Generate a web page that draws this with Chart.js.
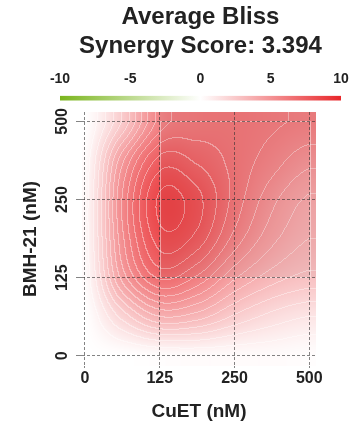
<!DOCTYPE html>
<html>
<head>
<meta charset="utf-8">
<script src="https://cdn.jsdelivr.net/npm/chart.js@4"></script>
<style>
  html, body { margin: 0; padding: 0; background: #fff; }
  #wrap { position: relative; width: 359px; height: 434px; }
  canvas { position: absolute; left: 0; top: 0; }
</style>
</head>
<body>
<div id="wrap">
  <canvas id="mapCanvas" width="359" height="434"></canvas>
  <canvas id="barCanvas" width="359" height="101"></canvas>
</div>
<script>
// dose tick labels (nM)
const cuetLabels = ['0', '125', '250', '500'];
const bmhLabels = ['0', '125', '250', '500'];
const averageScore = '3.394';
const colorbarTicks = [-10, -5, 0, 5, 10];
const colorbarRange = [-10, 10];

// surface samples at half steps of the tick index (0 = 0 nM ... 3 = 500 nM)
const surfaceSteps = [0, 0.5, 1, 1.5, 2, 2.5, 3];
// rows go from BMH-21 = 0 (bottom) to BMH-21 = 500 (top), columns CuET 0 -> 500
const blissRows = [
    [0.0, 0.0, 0.1, 0.2, 0.2, 0.2, 0.1],
    [0.0, 2.0, 3.6, 3.3, 2.3, 1.6, 1.2],
    [0.2, 4.4, 6.7, 5.9, 4.3, 3.3, 2.8],
    [0.3, 5.2, 8.1, 7.6, 5.8, 4.4, 3.6],
    [0.3, 5.4, 8.5, 8.0, 6.4, 5.0, 4.1],
    [0.2, 4.6, 7.4, 7.1, 6.4, 5.7, 5.0],
    [0.0, 2.4, 5.6, 6.2, 6.3, 6.1, 5.9]
];
// most synergistic area (tick index range)
const synergyBoxX = [1, 3];
const synergyBoxY = [1, 3];

const RED = [232, 38, 42];
const GREEN = [122, 181, 29];
const FONT = "'Liberation Sans', Arial, sans-serif";
const INK = '#222';

function blissColor(v) {
    const t = Math.max(-1, Math.min(1, v / 10));
    const c = t >= 0 ? RED : GREEN;
    const a = Math.abs(t);
    return [255 + (c[0] - 255) * a, 255 + (c[1] - 255) * a, 255 + (c[2] - 255) * a];
}

function sample(r, c) {
    const n = surfaceSteps.length - 1;
    r = Math.max(0, Math.min(n, r));
    c = Math.max(0, Math.min(n, c));
    return blissRows[r][c];
}

function cubic(p0, p1, p2, p3, t) {
    return p1 + 0.5 * t * (p2 - p0 + t * (2 * p0 - 5 * p1 + 4 * p2 - p3 + t * (3 * (p1 - p2) + p3 - p0)));
}

function surfaceAt(xv, yv) {
    const step = surfaceSteps[1] - surfaceSteps[0];
    const n = surfaceSteps.length - 1;
    const u = Math.max(0, Math.min(n, (xv - surfaceSteps[0]) / step));
    const v = Math.max(0, Math.min(n, (yv - surfaceSteps[0]) / step));
    const i = Math.min(n - 1, Math.floor(u)), j = Math.min(n - 1, Math.floor(v));
    const tx = u - i, ty = v - j;
    const rows = [];
    for (let k = -1; k <= 2; k++) {
        rows.push(cubic(sample(j + k, i - 1), sample(j + k, i), sample(j + k, i + 1), sample(j + k, i + 2), tx));
    }
    return cubic(rows[0], rows[1], rows[2], rows[3], ty);
}

const surfacePlugin = {
    id: 'surface',
    beforeDraw(chart) {
        const ctx = chart.ctx;
        const area = chart.chartArea;
        const xs = chart.scales.x, ys = chart.scales.y;
        const left = Math.round(area.left), top = Math.round(area.top);
        const w = Math.round(area.right) - left, h = Math.round(area.bottom) - top;
        const vals = new Float32Array(w * h);
        for (let py = 0; py < h; py++) {
            const yv = ys.getValueForPixel(top + py + 0.5);
            for (let px = 0; px < w; px++) {
                vals[py * w + px] = surfaceAt(xs.getValueForPixel(left + px + 0.5), yv);
            }
        }
        const step = 0.6;
        const img = ctx.createImageData(w, h);
        for (let py = 0; py < h; py++) {
            for (let px = 0; px < w; px++) {
                const k = py * w + px;
                const v = vals[k];
                let col = blissColor(v);
                const lv = Math.floor(v / step);
                const lr = px < w - 1 ? Math.floor(vals[k + 1] / step) : lv;
                const lb = py < h - 1 ? Math.floor(vals[k + w] / step) : lv;
                if ((lv !== lr || lv !== lb) && Math.max(v, 0) > step * 0.8) {
                    col = col.map(c => c + (255 - c) * 0.38);
                }
                img.data[k * 4] = col[0];
                img.data[k * 4 + 1] = col[1];
                img.data[k * 4 + 2] = col[2];
                img.data[k * 4 + 3] = 255;
            }
        }
        ctx.putImageData(img, left, top);

        // most synergistic area
        const bx0 = xs.getPixelForValue(synergyBoxX[0]), bx1 = xs.getPixelForValue(synergyBoxX[1]);
        const by0 = ys.getPixelForValue(synergyBoxY[0]), by1 = ys.getPixelForValue(synergyBoxY[1]);
        ctx.save();
        ctx.fillStyle = 'rgba(80,60,60,0.05)';
        ctx.fillRect(bx0, area.top, area.right - bx0, by0 - area.top);
        ctx.strokeStyle = 'rgba(255,255,255,0.45)';
        ctx.lineWidth = 1;
        ctx.strokeRect(Math.round(bx0) + 0.5, Math.round(by1) + 0.5, Math.round(bx1 - bx0), Math.round(by0 - by1));
        ctx.restore();
    }
};

const gridPoints = [];
blissRows.forEach((row, r) => row.forEach((v, c) => gridPoints.push({ x: surfaceSteps[c], y: surfaceSteps[r], v })));

new Chart(document.getElementById('mapCanvas'), {
    type: 'scatter',
    data: { datasets: [{ data: gridPoints, pointRadius: 0, pointHoverRadius: 0 }] },
    options: {
        responsive: false,
        animation: false,
        layout: { padding: { left: 15, right: 43, top: 112, bottom: 6 } },
        plugins: { legend: { display: false }, tooltip: { enabled: false } },
        scales: {
            x: {
                type: 'linear', min: -0.04, max: 3.09,
                afterBuildTicks: s => { s.ticks = cuetLabels.map((l, i) => ({ value: i })); },
                ticks: { callback: v => cuetLabels[v], font: { family: FONT, size: 16, weight: 'bold' }, color: INK, padding: 1, maxRotation: 0, autoSkip: false },
                grid: { color: 'rgba(50,50,50,0.6)', tickLength: 2 },
                border: { display: false, dash: [3, 2] },
                title: { display: true, text: 'CuET (nM)', font: { family: FONT, size: 19, weight: 'bold' }, color: INK, padding: { top: 11, bottom: 5 } }
            },
            y: {
                type: 'linear', min: -0.13, max: 3.12,
                afterBuildTicks: s => { s.ticks = bmhLabels.map((l, i) => ({ value: i })); },
                ticks: { callback: v => bmhLabels[v], font: { family: FONT, size: 16, weight: 'bold' }, color: INK, padding: 0, minRotation: 90, maxRotation: 90, crossAlign: 'center', autoSkip: false },
                grid: { color: 'rgba(50,50,50,0.6)', tickLength: 6 },
                border: { display: false, dash: [3, 2] },
                title: { display: true, text: 'BMH-21 (nM)', font: { family: FONT, size: 19, weight: 'bold' }, color: INK, padding: { top: 4, bottom: 15 } }
            }
        }
    },
    plugins: [surfacePlugin]
});

new Chart(document.getElementById('barCanvas'), {
    type: 'bar',
    data: {
        labels: ['Bliss'],
        datasets: [{
            data: [colorbarRange],
            barThickness: 4,
            borderSkipped: false,
            backgroundColor: c => {
                const area = c.chart.chartArea;
                const xs = c.chart.scales.x;
                if (!area || !xs) return 'rgba(0,0,0,0)';
                const x0 = xs.getPixelForValue(colorbarRange[0]), x1 = xs.getPixelForValue(colorbarRange[1]);
                if (!isFinite(x0) || !isFinite(x1)) return 'rgba(0,0,0,0)';
                const g = c.chart.ctx.createLinearGradient(x0, 0, x1, 0);
                g.addColorStop(0, 'rgb(' + GREEN.join(',') + ')');
                g.addColorStop(0.5, '#ffffff');
                g.addColorStop(1, 'rgb(' + RED.join(',') + ')');
                return g;
            }
        }]
    },
    options: {
        indexAxis: 'y',
        responsive: false,
        animation: false,
        layout: { padding: { left: 60, right: 18, top: 3, bottom: 0 } },
        plugins: {
            legend: { display: false },
            tooltip: { enabled: false },
            title: {
                display: true,
                text: ['Average Bliss', 'Synergy Score: ' + averageScore],
                font: { family: FONT, size: 24, weight: 'bold', lineHeight: 1.2 },
                color: INK,
                fullSize: false,
                padding: { top: 0, bottom: 2 }
            }
        },
        scales: {
            x: {
                type: 'linear', position: 'top', min: colorbarRange[0], max: colorbarRange[1],
                afterBuildTicks: s => { s.ticks = colorbarTicks.map(v => ({ value: v })); },
                ticks: { font: { family: FONT, size: 14, weight: 'bold' }, color: INK, padding: 8 },
                grid: { display: false, drawTicks: false },
                border: { display: false }
            },
            y: { display: false }
        }
    }
});
</script>
</body>
</html>
